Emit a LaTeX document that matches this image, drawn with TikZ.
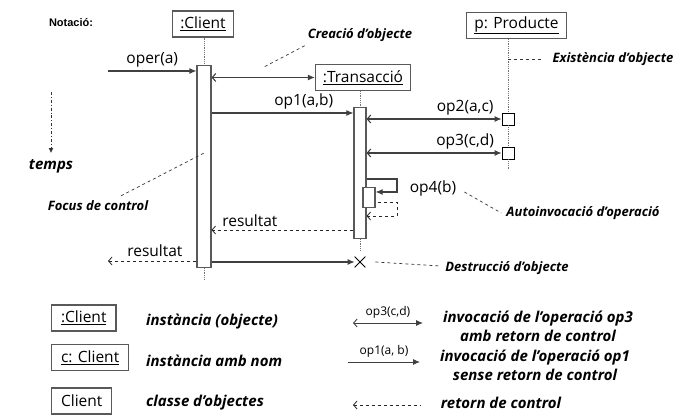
\documentclass[tikz,border=0pt]{standalone}
\usepackage{fontspec}
\setmainfont{Open Sans}
\newfontfamily\notafont{Liberation Sans}
\usetikzlibrary{arrows.meta}
\usetikzlibrary{shapes.misc}
\usetikzlibrary{positioning}

\tikzset{
  objbox/.style={draw=black!65, line width=1.1pt, inner xsep=7.5pt, inner ysep=0pt, minimum height=26pt, font=\fontsize{15.5}{17}\selectfont},
  actbar/.style={draw=black!65, fill=white, line width=1.1pt, minimum width=14pt, inner sep=0pt, anchor=north},
  msgbox/.style={draw=black, fill=white, line width=0.8pt, minimum size=12pt, inner sep=0pt},
  lifeline/.style={black!55, densely dotted, line width=0.8pt},
  msg/.style={draw=black!75, line width=1.1pt, -{Latex[length=7pt,width=6pt]}},
  callret/.style={draw=black!75, line width=1.1pt, {Straight Barb[length=3.5pt,width=8pt]}-{Latex[length=7pt,width=6pt]}},
  ret/.style={draw=black!85, line width=0.8pt, dashed, {Straight Barb[length=3.5pt,width=8pt]}-},
  pointer/.style={black!80, line width=0.7pt, dashed},
  lbl/.style={font=\fontsize{15.5}{17}\selectfont, inner sep=0pt},
  note/.style={font=\fontsize{13}{15}\selectfont\bfseries\itshape, inner sep=0pt},
  legnote/.style={font=\fontsize{15}{19}\selectfont\bfseries\itshape, inner sep=0pt, align=center},
}

\begin{document}
\begin{tikzpicture}[x=1pt,y=-1pt]
  % Constants
  \pgfmathsetmacro\cx{204}
  \pgfmathsetmacro\tx{360}
  \pgfmathsetmacro\px{508}
  % Boundary
  \path[use as bounding box] (0,0) rectangle (695,419);
  \node[font=\notafont\bfseries\fontsize{11}{12}\selectfont, inner sep=0pt] (notacio) at (71,23) {Notació:};
  % Objects
  \node[objbox] (cbox) at (203,24) {\underline{:Client}};
  \node[objbox] (tbox) at (363,77.5) {\underline{:Transacció}};
  \node[objbox] (pbox) at (516.5,25.5) {\underline{p: Producte}};
  % Focus of control
  \node[actbar, minimum height=202pt] (cbar) at (\cx,65) {};
  \node[actbar, minimum width=12pt, minimum height=131pt] (tbar) at (\tx,107) {};
  \node[actbar, minimum width=12pt, minimum height=20pt] (sbar) at (369,187) {};
  \node[msgbox] (pm1) at (\px,119) {};
  \node[msgbox] (pm2) at (\px,153) {};
  \node[cross out, draw=black, line width=0.8pt, minimum size=10pt, inner sep=0pt] (xdel) at (\tx,262) {};
  \coordinate (pend) at (\px,170);
  % Lifelines
  \draw[lifeline] (cbar.north |- cbox.south) -- (cbar.north);
  \draw[lifeline] (cbar.south) -- ++(0,12);
  \draw[lifeline] (tbar.north |- tbox.south) -- (tbar.north);
  \draw[lifeline] (tbar.south) -- ++(0,12);
  \draw[lifeline] (pm1.north |- pbox.south) -- (pm1.north);
  \draw[lifeline] (pm1.south) -- (pm2.north);
  \draw[lifeline] (pm2.south) -- (pend);
  % Messages
  \coordinate (opin) at (108,71);
  \draw[msg] (opin) -- (cbar.west |- opin) node[lbl, midway, above=3pt] {oper(a)};
  \draw[callret] (cbar.east |- tbox) -- (tbox.west);
  \draw[msg] (cbar.east |- 0,113) -- (tbar.west |- 0,113) node[lbl, pos=0.65, above=3pt] {op1(a,b)};
  \draw[callret] (tbar.east |- pm1) -- (pm1.west) node[lbl, pos=0.73, above=3pt] {op2(a,c)};
  \draw[callret] (tbar.east |- pm2) -- (pm2.west) node[lbl, pos=0.73, above=3pt] {op3(c,d)};
  \draw[msg] (tbar.east |- 0,179) -| (397,192) -- (sbar.east |- 0,192);
  \draw[ret] (tbar.east |- 0,216) -| (397,202) -- (sbar.east |- 0,202);
  \node[lbl] (op4) at (433,188) {op4(b)};
  \draw[ret] (cbar.east |- 0,230) -- (tbar.west |- 0,230) node[lbl, pos=0.27, above=3pt] {resultat};
  \coordinate (resout) at (108,261);
  \draw[ret] (resout) -- (cbar.west |- resout) node[lbl, pos=0.53, above=4pt] {resultat};
  \draw[msg] (cbar.east |- xdel) -- (xdel.west);
  % Annotations
  \node[note] (creacio) at (360,35) {Creació d’objecte};
  \coordinate (creaptr) at (264,67);
  \draw[pointer] ([shift={(-3,4)}]creacio.south west) -- (creaptr);
  \node[note] (exist) at (613,59) {Existència d’objecte};
  \draw[pointer] (\px,59) -- ([shift={(-11,0)}]exist.west);
  \node[note] (autoinv) at (583,213) {Autoinvocació d’operació};
  \draw[pointer] ([shift={(8,4)}]op4.east) -- ([shift={(-5,0)}]autoinv.west);
  \node[note] (destr) at (507,268) {Destrucció d’objecte};
  \draw[pointer] ([shift={(10,0)}]xdel.east) -- ([shift={(-5,-2)}]destr.west);
  \node[note, font=\fontsize{15}{17}\selectfont\bfseries\itshape] (temps) at (51,166) {temps};
  \coordinate (ttop) at (51,92);
  \draw[black!80, line width=0.8pt, dash dot, -{Latex[length=5pt,width=5pt]}] (ttop) -- ([shift={(0,-6)}]temps.north);
  \node[note] (focus) at (98,206) {Focus de control};
  \coordinate (focusptr) at (206,152);
  \draw[pointer] ([shift={(23,-5)}]focus.north) -- (focusptr);
  % Legend
  \node[objbox, inner xsep=9.5pt, anchor=west] (lobj) at (51,318) {\underline{:Client}};
  \node[objbox, inner xsep=9.5pt, anchor=west] (lnamed) at (51,357.5) {\underline{c: Client}};
  \node[objbox, inner xsep=9.5pt, anchor=west] (lclass) at (51,401) {Client};
  \node[legnote, anchor=west] (lobjtxt) at (146,322) {instància (objecte)};
  \node[legnote, anchor=west] (lnamedtxt) at (146,361) {instància amb nom};
  \node[legnote, anchor=west] (lclasstxt) at (146,403) {classe d’objectes};
  \coordinate (lcalla) at (353,323);
  \coordinate (lcallb) at (423,323);
  \draw[callret, line width=0.9pt] (lcalla) -- (lcallb) node[midway, above=4pt, inner sep=0pt, font=\fontsize{12}{13}\selectfont] {op3(c,d)};
  \coordinate (lmsga) at (348,362);
  \coordinate (lmsgb) at (420,362);
  \draw[msg, line width=0.9pt] (lmsga) -- (lmsgb) node[midway, above=4pt, inner sep=0pt, font=\fontsize{12}{13}\selectfont] {op1(a, b)};
  \coordinate (lreta) at (353,405);
  \coordinate (lretb) at (420,405);
  \draw[ret] (lreta) -- (lretb);
  \node[legnote] (lcalltxt) at (538,326) {invocació de l’operació op3\\amb retorn de control};
  \node[legnote] (lmsgtxt) at (535,365.5) {invocació de l’operació op1\\sense retorn de control};
  \node[legnote] (lrettxt) at (501,403) {retorn de control};
\end{tikzpicture}
\end{document}
